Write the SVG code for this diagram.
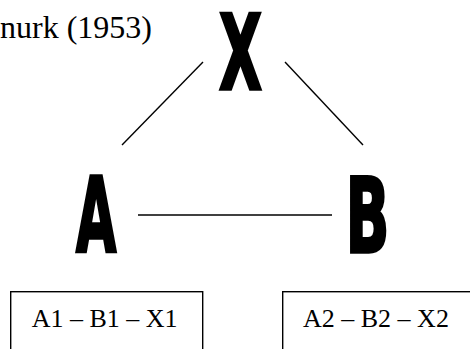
<svg xmlns="http://www.w3.org/2000/svg" width="470" height="349" viewBox="0 0 470 349">
<style>
.big{font-family:"DejaVu Sans",sans-serif;font-weight:bold;font-size:104px;fill:#000;stroke:#000;stroke-width:3.5;stroke-linejoin:miter;text-anchor:middle}
.lbl{font-family:"Liberation Serif",serif;font-size:26px;fill:#000}
.box{fill:none;stroke:#000;stroke-width:1.4}
.edge{stroke:#000;stroke-width:1.4;fill:none}
</style>
<rect width="470" height="349" fill="#fff"/>
<text class="lbl" x="152" y="38" text-anchor="end" style="font-size:32px">nurk (1953)</text>
<g id="connectors">
<line class="edge" x1="203" y1="62" x2="122" y2="145"/>
<line class="edge" x1="285" y1="62" x2="363" y2="145"/>
<line class="edge" x1="138" y1="215" x2="332" y2="215"/>
</g>
<g id="node-X"><text class="big" transform="translate(240.5,89) scale(0.53,1)">X</text></g>
<g id="node-A"><text class="big" transform="translate(96,252) scale(0.5,1)">A</text></g>
<g id="node-B"><text class="big" transform="translate(367.5,252) scale(0.55,1)">B</text></g>
<g id="box1"><rect class="box" x="10.7" y="291.7" width="192" height="80"/><text class="lbl" x="31.7" y="327">A1 – B1 – X1</text></g>
<g id="box2"><rect class="box" x="282.7" y="291.7" width="200" height="80"/><text class="lbl" x="303" y="327">A2 – B2 – X2</text></g>
</svg>
